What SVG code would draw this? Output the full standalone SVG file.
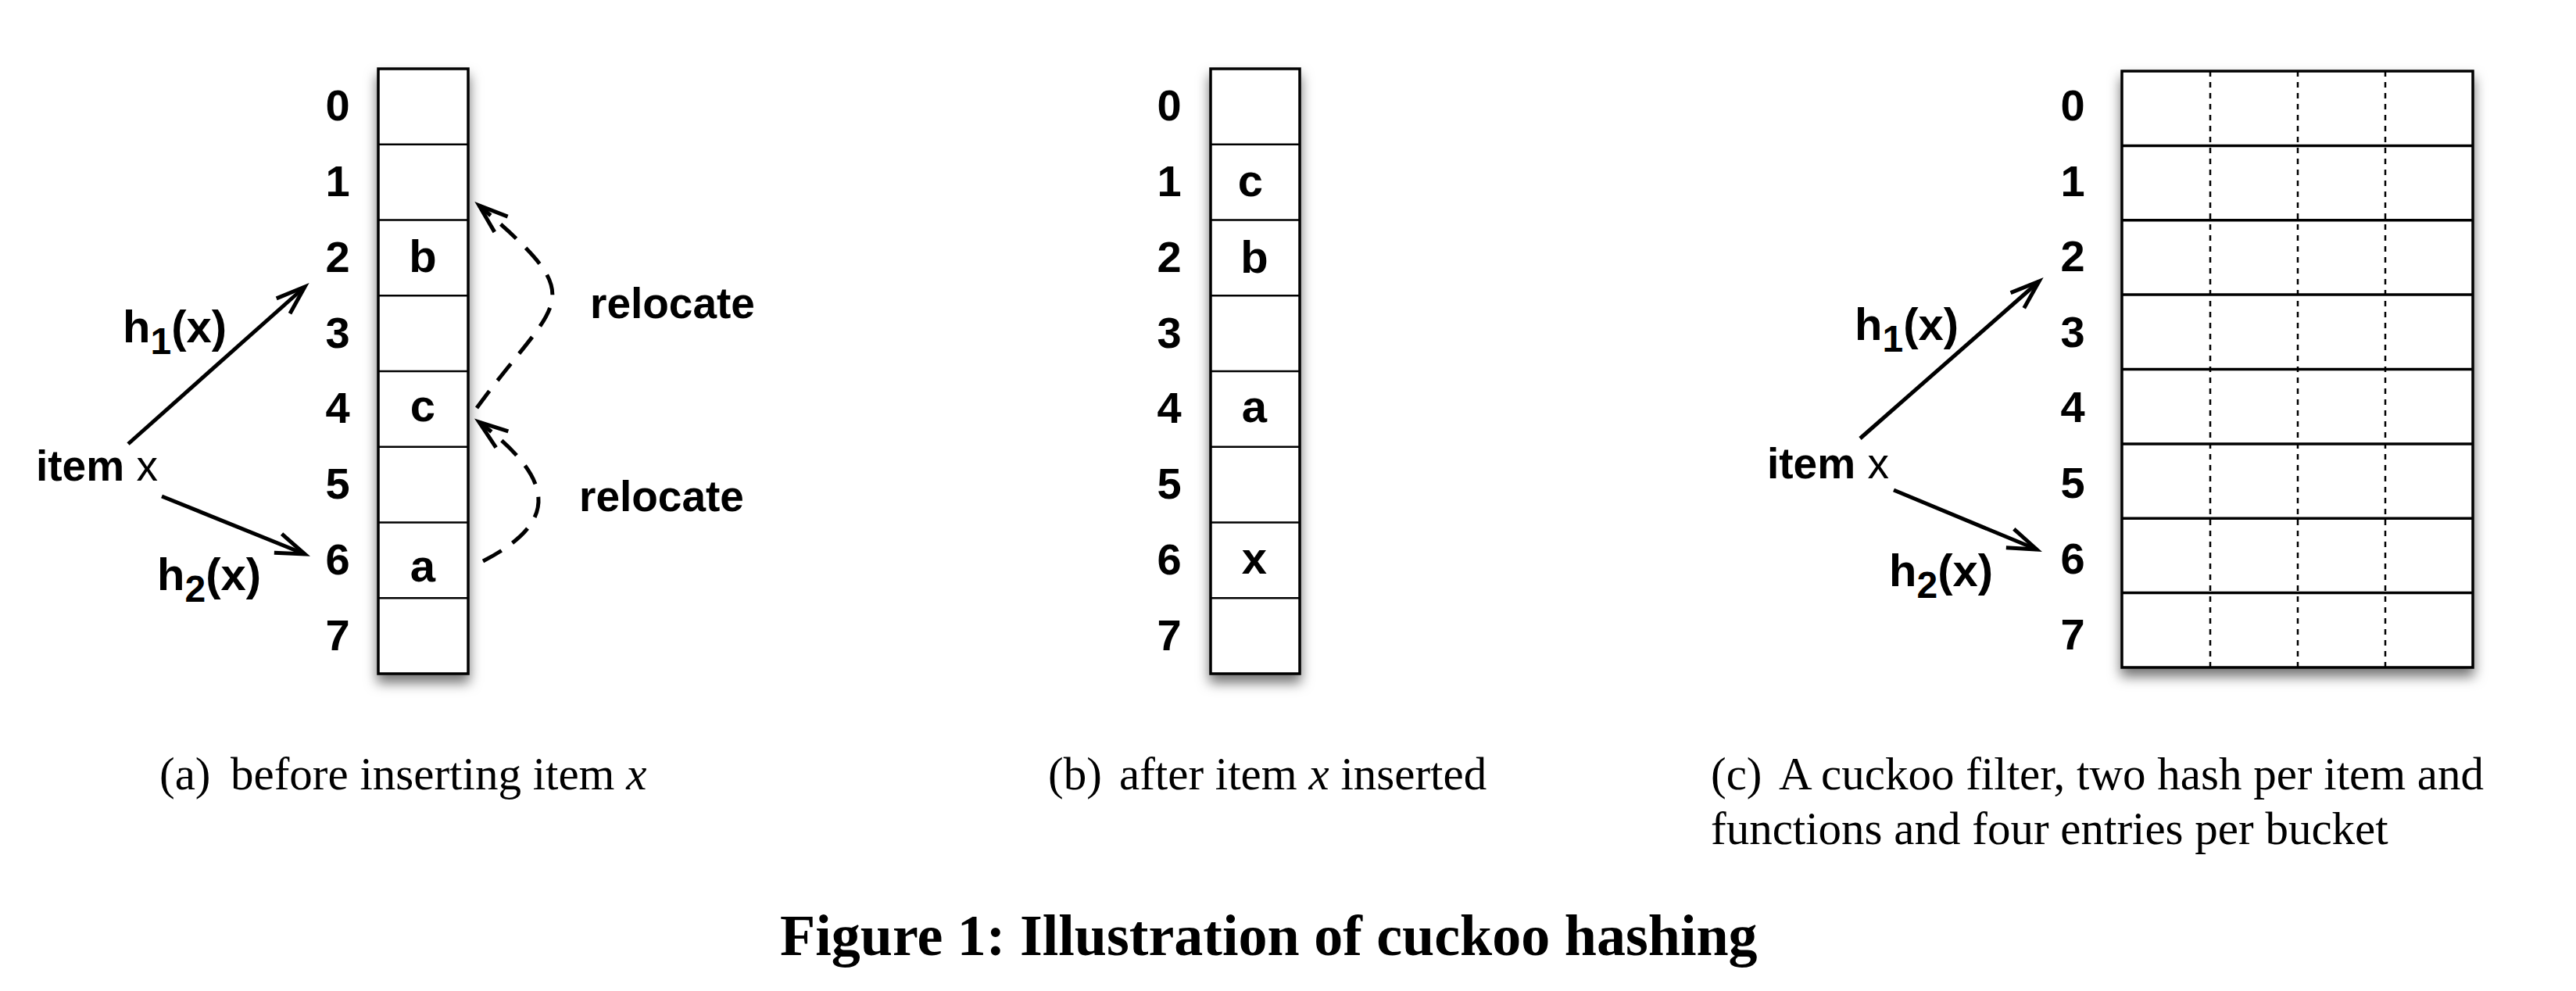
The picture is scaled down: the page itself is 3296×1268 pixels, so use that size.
<svg xmlns="http://www.w3.org/2000/svg" width="3296" height="1268" viewBox="0 0 3296 1268">
<style>
.lbl{font-family:"Liberation Sans",Arial,sans-serif;font-weight:bold;font-size:55px;fill:#000}
.num{font-family:"Liberation Sans",Arial,sans-serif;font-weight:bold;font-size:56px;fill:#000;text-anchor:middle}
.cell{font-family:"Liberation Sans",Arial,sans-serif;font-weight:bold;font-size:58px;fill:#000;text-anchor:middle}
.hl{font-family:"Liberation Sans",Arial,sans-serif;font-weight:bold;font-size:58px;fill:#000}
.cap{font-family:"Liberation Serif","Times New Roman",serif;font-size:59px;fill:#000}
.title{font-family:"Liberation Serif","Times New Roman",serif;font-weight:bold;font-size:74px;fill:#000}
.box{fill:#fff;stroke:#000;stroke-width:3.5}
.row{stroke:#000;stroke-width:2.5}
.rowc{stroke:#000;stroke-width:3.5}
.dot{stroke:#000;stroke-width:2.5;stroke-dasharray:7 7}
.arr{fill:none;stroke:#000;stroke-width:5;marker-end:url(#ah)}
.darr{fill:none;stroke:#000;stroke-width:5;stroke-dasharray:27 17;marker-end:url(#ah)}
</style>
<defs>
<filter id="sh" x="-40%" y="-10%" width="180%" height="125%">
<feDropShadow dx="0" dy="10" stdDeviation="8" flood-color="#000" flood-opacity="0.55"/>
</filter>
<marker id="ah" markerUnits="userSpaceOnUse" markerWidth="60" markerHeight="60" refX="0" refY="0" viewBox="-45 -30 60 60" orient="auto" overflow="visible">
<path d="M-37,-13 L0,0 L-37,13" fill="none" stroke="#000" stroke-width="5" stroke-linejoin="miter"/>
</marker>
</defs>
<rect width="3296" height="1268" fill="#fff"/>

<g id="panel-a">
<g id="table-a">
<rect class="box" x="484" y="88" width="115" height="774" filter="url(#sh)"/>
<path class="row" d="M484,184.75H599M484,281.5H599M484,378.25H599M484,475H599M484,571.75H599M484,668.5H599M484,765.25H599"/>
<text class="num" x="432" y="154">0</text>
<text class="num" x="432" y="251">1</text>
<text class="num" x="432" y="348">2</text>
<text class="num" x="432" y="445">3</text>
<text class="num" x="432" y="541">4</text>
<text class="num" x="432" y="638">5</text>
<text class="num" x="432" y="735">6</text>
<text class="num" x="432" y="832">7</text>
<text class="cell" x="541" y="348">b</text>
<text class="cell" x="541" y="539">c</text>
<text class="cell" x="541" y="744">a</text>
</g>
<g id="item-a"><text class="lbl" x="46" y="615">item <tspan font-weight="normal">x</tspan></text></g>
<g id="h1-a"><text class="hl" x="157" y="438">h<tspan font-size="48" dy="15">1</tspan><tspan dy="-15">(x)</tspan></text></g>
<g id="h2-a"><text class="hl" x="201" y="755">h<tspan font-size="48" dy="15">2</tspan><tspan dy="-15">(x)</tspan></text></g>
<g id="reloc1-a"><text class="lbl" x="755" y="407">relocate</text></g>
<g id="reloc2-a"><text class="lbl" x="741" y="654">relocate</text></g>
</g>

<g id="panel-b">
<g id="table-b">
<rect class="box" x="1549" y="88" width="114" height="774" filter="url(#sh)"/>
<path class="row" d="M1549,184.75H1663M1549,281.5H1663M1549,378.25H1663M1549,475H1663M1549,571.75H1663M1549,668.5H1663M1549,765.25H1663"/>
<text class="num" x="1496" y="154">0</text>
<text class="num" x="1496" y="251">1</text>
<text class="num" x="1496" y="348">2</text>
<text class="num" x="1496" y="445">3</text>
<text class="num" x="1496" y="541">4</text>
<text class="num" x="1496" y="638">5</text>
<text class="num" x="1496" y="735">6</text>
<text class="num" x="1496" y="832">7</text>
<text class="cell" x="1600" y="251">c</text>
<text class="cell" x="1605" y="349">b</text>
<text class="cell" x="1605" y="540">a</text>
<text class="cell" x="1605" y="734">x</text>
</g>
</g>

<g id="panel-c">
<g id="table-c">
<rect class="box" x="2715" y="91" width="449" height="763" filter="url(#sh)"/>
<path class="dot" d="M2828,91V854M2940,91V854M3052,91V854"/>
<path class="rowc" d="M2715,186.4H3164M2715,281.8H3164M2715,377.1H3164M2715,472.5H3164M2715,567.9H3164M2715,663.3H3164M2715,758.6H3164"/>
<text class="num" x="2652" y="154">0</text>
<text class="num" x="2652" y="251">1</text>
<text class="num" x="2652" y="347">2</text>
<text class="num" x="2652" y="444">3</text>
<text class="num" x="2652" y="540">4</text>
<text class="num" x="2652" y="637">5</text>
<text class="num" x="2652" y="734">6</text>
<text class="num" x="2652" y="831">7</text>
</g>
<g id="item-c"><text class="lbl" x="2261" y="612">item <tspan font-weight="normal">x</tspan></text></g>
<g id="h1-c"><text class="hl" x="2373" y="435">h<tspan font-size="48" dy="15">1</tspan><tspan dy="-15">(x)</tspan></text></g>
<g id="h2-c"><text class="hl" x="2417" y="750">h<tspan font-size="48" dy="15">2</tspan><tspan dy="-15">(x)</tspan></text></g>
</g>

<g id="connectors">
<path class="arr" d="M164,568L390,367"/>
<path class="arr" d="M207,635L390,709"/>
<path class="darr" d="M610,522C715,378 760,388 613,263"/>
<path class="darr" d="M618,718C715,668 712,615 613,540"/>
<path class="arr" d="M2380,561L2609,360"/>
<path class="arr" d="M2423,627L2606,703"/>
</g>

<g id="captions">
<text class="cap" x="204" y="1010">(a)<tspan x="295">before inserting item </tspan><tspan font-style="italic">x</tspan></text>
<text class="cap" x="1341" y="1010">(b)<tspan x="1432">after item </tspan><tspan font-style="italic">x</tspan><tspan> inserted</tspan></text>
<text class="cap" x="2189" y="1010">(c)<tspan x="2276">A cuckoo filter, two hash per item and</tspan></text>
<text class="cap" x="2189" y="1080">functions and four entries per bucket</text>
<text class="title" x="998" y="1222">Figure 1: Illustration of cuckoo hashing</text>
</g>
</svg>
